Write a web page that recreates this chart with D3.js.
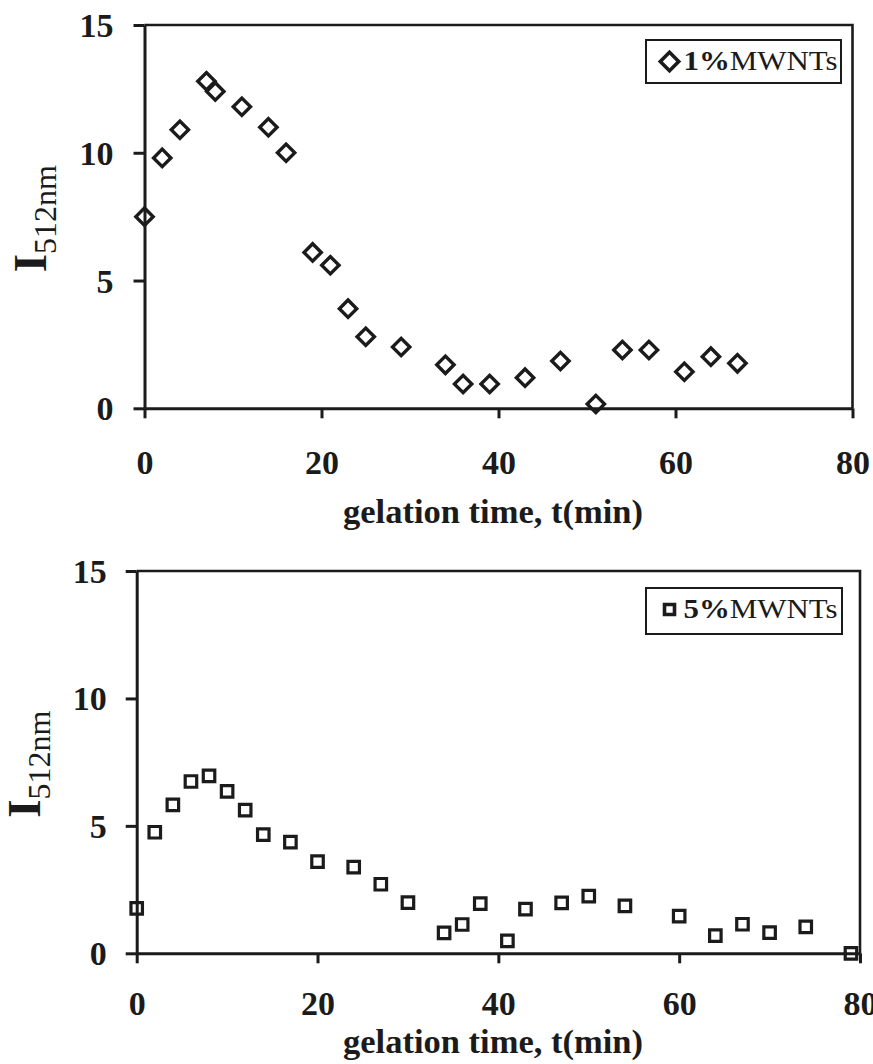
<!DOCTYPE html>
<html>
<head>
<meta charset="utf-8">
<script src="https://cdn.jsdelivr.net/npm/d3@7"></script>
<style>
body { margin: 0; background: #fff; }
svg { display: block; font-family: "Liberation Serif", "Times New Roman", serif; }
</style>
</head>
<body>
<svg id="chart" width="873" height="1064"></svg>
<script>
// values: gelation time (min) vs I(512nm)
const time1 = [0, 2, 4, 7, 8, 11, 14, 16, 19, 21, 23, 25, 29, 34, 36, 39, 43, 47, 51, 54, 57, 61, 64, 67];
const intensity1 = [7.5, 9.8, 10.9, 12.8, 12.4, 11.8, 11.0, 10.0, 6.1, 5.6, 3.9, 2.8, 2.4, 1.7, 0.95, 0.95, 1.2, 1.85, 0.17, 2.28, 2.28, 1.43, 2.02, 1.76];
const time5 = [0, 2, 4, 6, 8, 10, 12, 14, 17, 20, 24, 27, 30, 34, 36, 38, 41, 43, 47, 50, 54, 60, 64, 67, 70, 74, 79];
const intensity5 = [1.76, 4.75, 5.82, 6.74, 6.96, 6.35, 5.62, 4.66, 4.36, 3.6, 3.38, 2.71, 1.99, 0.8, 1.13, 1.95, 0.49, 1.73, 1.98, 2.24, 1.86, 1.46, 0.69, 1.14, 0.81, 1.04, 0];
const xTicks = [0, 20, 40, 60, 80];
const yTicks = [0, 5, 10, 15];
const xDomain = [0, 80];
const yDomain = [0, 15];
const legendPct = ['1%', '5%'];
const legendName = 'MWNTs';

const ink = '#1b1b1b';
const svg = d3.select('#chart');

const panels = [
	{
		times: time1, values: intensity1, pct: legendPct[0], marker: 'diamond',
		left: 144.5, right: 852.5, top: 25, bottom: 408.3,
		legend: {x: 646, y: 40, w: 195, h: 43},
		yLabelX: 46, xTitleY: 523, padY: 20, xLabelY: 66
	},
	{
		times: time5, values: intensity5, pct: legendPct[1], marker: 'square',
		left: 136.7, right: 860, top: 571, bottom: 953.3,
		legend: {x: 646, y: 588, w: 196, h: 46},
		yLabelX: 40, xTitleY: 1053, padY: 19, xLabelY: 62
	}
];

function markerPath(kind, big) {
	if (kind == 'diamond')
		return d3.symbol().type(d3.symbolSquare).size(big ? 170 : 150)();
	return d3.symbol().type(d3.symbolSquare).size(big ? 100 : 132)();
}

function drawPanel(p) {
	var x = d3.scaleLinear().domain(xDomain).range([p.left, p.right]);
	var y = d3.scaleLinear().domain(yDomain).range([p.bottom, p.top]);
	var g = svg.append('g');

	// top and right frame
	g.append('path')
		.attr('d', 'M' + x(0) + ',' + y(15) + 'H' + x(80) + 'V' + y(0))
		.attr('fill', 'none')
		.attr('stroke', ink)
		.attr('stroke-width', 2.6);

	var xAxis = g.append('g')
		.attr('transform', 'translate(0,' + y(0) + ')')
		.call(d3.axisBottom(x).tickValues(xTicks).tickSize(10).tickSizeOuter(0).tickFormat(d3.format('d')));
	xAxis.selectAll('text')
		.attr('y', p.xLabelY)
		.attr('dy', null);

	var yAxis = g.append('g')
		.attr('transform', 'translate(' + x(0) + ',0)')
		.call(d3.axisLeft(y).tickValues(yTicks).tickSize(11).tickPadding(p.padY).tickSizeOuter(0));
	yAxis.selectAll('text').attr('dy', '0.34em');

	[xAxis, yAxis].forEach(a => {
		a.select('.domain').attr('stroke', ink).attr('stroke-width', 3);
		a.selectAll('.tick line').attr('stroke', ink).attr('stroke-width', 3);
		a.selectAll('text')
			.attr('fill', ink)
			.style('font-size', '34px')
			.style('font-weight', 'bold')
			.style('font-family', '"Liberation Serif", serif');
	});

	// points
	var pts = p.times.map((t, i) => ({t: t, v: p.values[i]}));
	g.selectAll('path.pt')
		.data(pts)
		.enter()
		.append('path')
			.attr('class', 'pt')
			.attr('d', markerPath(p.marker, false))
			.attr('transform', d => 'translate(' + x(d.t) + ',' + y(d.v) + ')' + (p.marker == 'diamond' ? ' rotate(45)' : ''))
			.attr('fill', 'none')
			.attr('stroke', ink)
			.attr('stroke-width', p.marker == 'diamond' ? 3.4 : 3.2);

	// legend
	var lg = p.legend;
	g.append('rect')
		.attr('x', lg.x).attr('y', lg.y)
		.attr('width', lg.w).attr('height', lg.h)
		.attr('fill', '#fff')
		.attr('stroke', ink)
		.attr('stroke-width', 2);
	g.append('path')
		.attr('d', markerPath(p.marker, true))
		.attr('transform', 'translate(' + (lg.x + 23.5) + ',' + (lg.y + 21.5) + ')' + (p.marker == 'diamond' ? ' rotate(45)' : ''))
		.attr('fill', 'none')
		.attr('stroke', ink)
		.attr('stroke-width', 3.6);
	var lt = g.append('text')
		.attr('x', lg.x + 37.5)
		.attr('y', lg.y + 30)
		.attr('fill', ink)
		.attr('textLength', 154)
		.attr('lengthAdjust', 'spacingAndGlyphs')
		.style('font-size', '27px');
	lt.append('tspan').style('font-weight', 'bold').text(p.pct);
	lt.append('tspan').text(legendName);

	// y label  I_512nm
	var cy = (p.top + p.bottom) / 2 + 2;
	var yl = g.append('text')
		.attr('transform', 'translate(' + p.yLabelX + ',' + cy + ') rotate(-90)')
		.attr('text-anchor', 'middle')
		.attr('fill', ink);
	yl.append('tspan').style('font-size', '47px').style('font-weight', 'bold').text('I');
	yl.append('tspan').attr('dy', 10).style('font-size', '32px').text('512nm');

	// x title
	g.append('text')
		.attr('x', 493)
		.attr('y', p.xTitleY)
		.attr('text-anchor', 'middle')
		.attr('fill', ink)
		.attr('textLength', 300)
		.attr('lengthAdjust', 'spacingAndGlyphs')
		.style('font-size', '34px')
		.style('font-weight', 'bold')
		.text('gelation time,  t(min)');
}

panels.forEach(drawPanel);
</script>
</body>
</html>
